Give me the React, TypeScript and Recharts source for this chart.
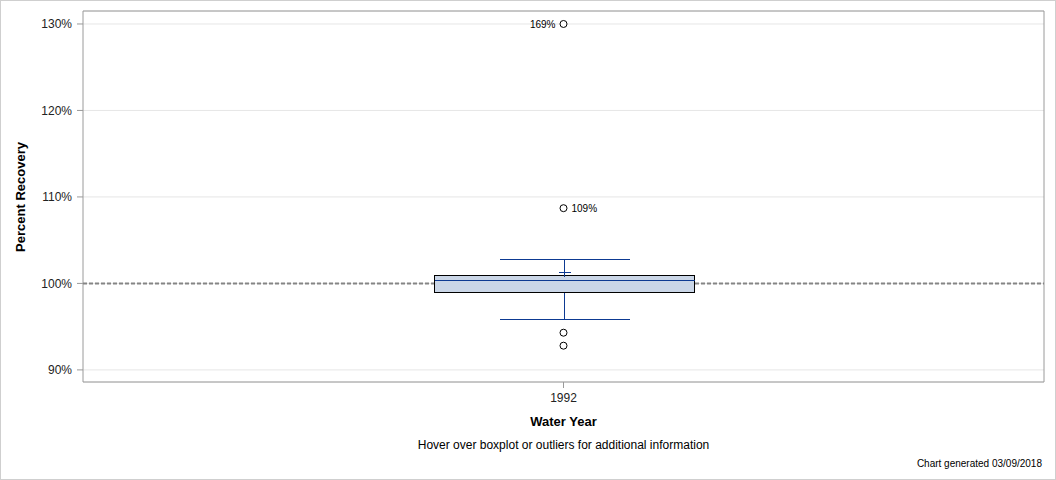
import {
  ComposedChart,
  Bar,
  Scatter,
  XAxis,
  YAxis,
  CartesianGrid,
  ReferenceLine,
} from "recharts";

// boxplot summary per water year (percent recovery)
const years = ["1992"];
const whiskerLow = [95.9];
const q1 = [98.95];
const median = [100.45];
const q3 = [101.0];
const mean = [101.3];
const whiskerHigh = [102.85];

// outliers
const outlierYears = ["1992", "1992", "1992", "1992"];
const outlierValues = [92.8, 94.3, 108.7, 169];
const outlierLabels = ["", "", "109%", "169%"];

const yTicks = [90, 100, 110, 120, 130];
const yDomain = [88.6, 131.5];
const clipAt = 130;

const boxData = years.map((year, i) => ({
  year,
  whisker: [whiskerLow[i], whiskerHigh[i]],
  low: whiskerLow[i],
  q1: q1[i],
  median: median[i],
  q3: q3[i],
  mean: mean[i],
  high: whiskerHigh[i],
}));

const outlierData = outlierValues.map((v, i) => ({
  year: outlierYears[i],
  plotted: Math.min(v, clipAt),
  clipped: v > clipAt,
  label: outlierLabels[i],
}));

const FONT = "'Liberation Sans', Arial, sans-serif";
const BLUE = "#0d3a92";

const snap = (v: number) => Math.round(v) + 0.5;

function BoxShape(props: any) {
  const { x, y, width, height, payload } = props;
  const top = Math.min(y, y + height);
  const h = Math.abs(height);
  const k = h / (payload.high - payload.low);
  const py = (v: number) => snap(top + (payload.high - v) * k);
  const cx = snap(x + width / 2);
  const cap = Math.round(width / 4);
  const left = snap(x);
  const right = snap(x + width);
  return (
    <g shapeRendering="crispEdges">
      <line x1={cx} x2={cx} y1={py(payload.high)} y2={py(payload.q3)} stroke={BLUE} />
      <line x1={cx} x2={cx} y1={py(payload.q1)} y2={py(payload.low)} stroke={BLUE} />
      <line x1={cx - cap} x2={cx + cap} y1={py(payload.high)} y2={py(payload.high)} stroke={BLUE} />
      <line x1={cx - cap} x2={cx + cap} y1={py(payload.low)} y2={py(payload.low)} stroke={BLUE} />
      <rect
        x={left}
        y={py(payload.q3)}
        width={right - left}
        height={py(payload.q1) - py(payload.q3)}
        fill="#cad6e7"
        stroke="#000"
        strokeWidth={1}
      />
      <line x1={left} x2={right} y1={py(payload.median)} y2={py(payload.median)} stroke={BLUE} />
      <line x1={cx - 6} x2={cx + 6} y1={py(payload.mean)} y2={py(payload.mean)} stroke={BLUE} />
      <line x1={cx} x2={cx} y1={py(payload.mean) - 4} y2={py(payload.mean) + 4} stroke={BLUE} />
    </g>
  );
}

function OutlierDot(props: any) {
  const { cx, cy, payload } = props;
  return (
    <g>
      <circle cx={cx} cy={cy} r={3.5} fill="#fff" stroke="#000" strokeWidth={1} />
      {payload.label ? (
        <text
          x={payload.clipped ? cx - 8 : cx + 8}
          y={cy + 4}
          textAnchor={payload.clipped ? "end" : "start"}
          fontSize={10}
          fontFamily={FONT}
          fill="#000"
        >
          {payload.label}
        </text>
      ) : null}
    </g>
  );
}

export default function App() {
  return (
    <div style={{ position: "absolute", left: 0, top: 0, width: 1056, height: 480, background: "#fff", fontFamily: FONT }}>
      <ComposedChart
        width={1056}
        height={480}
        data={boxData}
        margin={{ top: 11, right: 12, left: 23, bottom: 68 }}
      >
        <CartesianGrid vertical={false} stroke="#e6e6e6" />
        <CartesianGrid
          fill="none"
          stroke="#9a9a9a"
          horizontalCoordinatesGenerator={({ offset }: any) => [offset.top, offset.top + offset.height]}
          verticalCoordinatesGenerator={({ offset }: any) => [offset.left, offset.left + offset.width]}
        />
        <XAxis
          dataKey="year"
          type="category"
          allowDuplicatedCategory={false}
          height={30}
          axisLine={false}
          tickLine={{ stroke: "#9a9a9a" }}
          tickSize={6}
          tickMargin={5}
          tick={{ fontSize: 12, fill: "#222", fontFamily: FONT }}
        />
        <YAxis
          type="number"
          domain={yDomain}
          ticks={yTicks}
          allowDataOverflow
          width={60}
          axisLine={false}
          tickLine={{ stroke: "#9a9a9a" }}
          tickSize={6}
          tickMargin={5}
          tickFormatter={(v: number) => `${v}%`}
          tick={{ fontSize: 12, fill: "#222", fontFamily: FONT }}
        />
        <ReferenceLine y={100} stroke="#858585" strokeWidth={2} strokeDasharray="4 2" zIndex={50} />
        <Bar dataKey="whisker" barSize={260} shape={<BoxShape />} isAnimationActive={false} zIndex={300} />
        <Scatter data={outlierData} dataKey="plotted" shape={<OutlierDot />} isAnimationActive={false} />
      </ComposedChart>
      <div
        style={{
          position: "absolute",
          left: 20,
          top: 197,
          transform: "translate(-50%, -50%) rotate(-90deg)",
          fontSize: 13,
          fontWeight: "bold",
          whiteSpace: "nowrap",
          color: "#000",
        }}
      >
        Percent Recovery
      </div>
      <div style={{ position: "absolute", left: 0, width: 1127, top: 414, textAlign: "center", fontSize: 13, fontWeight: "bold" }}>
        Water Year
      </div>
      <div style={{ position: "absolute", left: 0, width: 1127, top: 438, textAlign: "center", fontSize: 12 }}>
        Hover over boxplot or outliers for additional information
      </div>
      <div style={{ position: "absolute", right: 14, top: 458, fontSize: 10 }}>
        Chart generated 03/09/2018
      </div>
      <div
        style={{
          position: "absolute",
          left: 0,
          top: 0,
          width: 1056,
          height: 480,
          boxSizing: "border-box",
          border: "1px solid #cfcfcf",
          pointerEvents: "none",
        }}
      />
    </div>
  );
}
